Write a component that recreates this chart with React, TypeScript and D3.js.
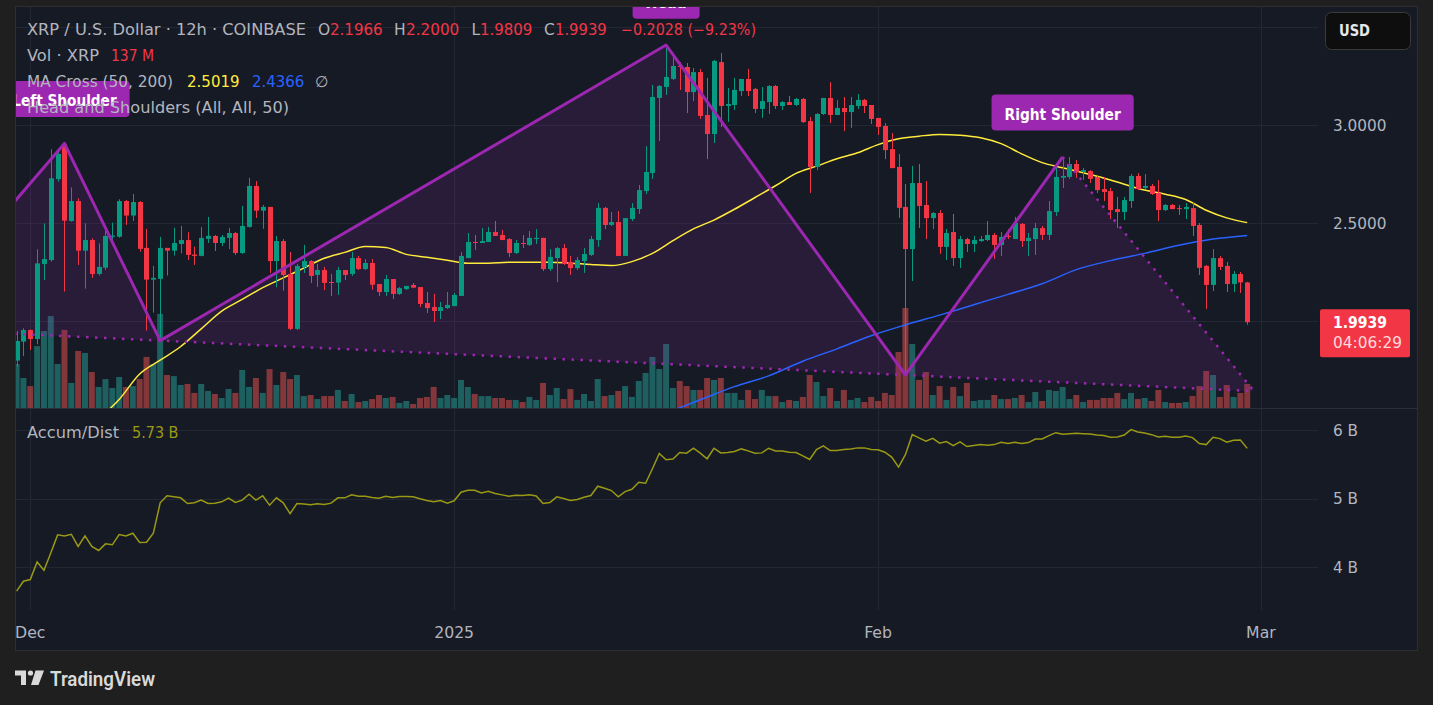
import React, { useEffect, useRef } from "react";
import * as d3 from "d3";

const W = 1433;
const H = 705;
const START = Date.UTC(2024, 10, 30, 0, 0);
const HALF_DAY = 12 * 3600 * 1000;

// ---- OHLC (12h candles, XRP/USD) ----
const opens = [
  1.798, 1.895, 1.954, 1.908, 2.291, 2.311, 2.724, 2.901, 2.510, 2.612,
  2.359, 2.413, 2.240, 2.272, 2.430, 2.430, 2.612, 2.538, 2.607, 2.373,
  2.211, 2.215, 2.373, 2.359, 2.393, 2.413, 2.339, 2.332, 2.419, 2.434,
  2.398, 2.424, 2.449, 2.347, 2.480, 2.689, 2.563, 2.582, 2.306, 2.408,
  2.240, 1.960, 2.276, 2.306, 2.235, 2.260, 2.199, 2.196, 2.260, 2.240,
  2.321, 2.265, 2.296, 2.189, 2.148, 2.214, 2.138, 2.163, 2.184, 2.173,
  2.092, 2.071, 2.051, 2.066, 2.076, 2.128, 2.321, 2.403, 2.398, 2.403,
  2.454, 2.439, 2.418, 2.347, 2.398, 2.388, 2.418, 2.424, 2.265, 2.321,
  2.372, 2.301, 2.270, 2.306, 2.337, 2.413, 2.577, 2.490, 2.505, 2.332,
  2.520, 2.571, 2.663, 2.755, 3.138, 3.194, 3.235, 3.301, 3.296, 3.168,
  3.270, 3.051, 2.954, 3.321, 3.097, 3.102, 3.173, 3.235, 3.184, 3.082,
  3.117, 3.199, 3.097, 3.117, 3.102, 3.133, 3.020, 2.786, 3.056, 3.138,
  3.051, 3.087, 3.066, 3.097, 3.128, 3.102, 3.036, 2.995, 2.877, 2.786,
  2.582, 2.367, 2.704, 2.592, 2.525, 2.551, 2.378, 2.454, 2.321, 2.418,
  2.393, 2.408, 2.413, 2.439, 2.388, 2.434, 2.418, 2.495, 2.408, 2.418,
  2.474, 2.439, 2.556, 2.731, 2.735, 2.801, 2.760, 2.765, 2.735, 2.673,
  2.663, 2.571, 2.556, 2.612, 2.740, 2.679, 2.689, 2.653, 2.566, 2.592,
  2.576, 2.571, 2.576, 2.490, 2.281, 2.184, 2.321, 2.281, 2.189, 2.240,
  2.1966,
];
const highs = [
  1.949, 1.963, 1.957, 2.366, 2.498, 2.876, 2.864, 2.906, 2.682, 2.626,
  2.498, 2.422, 2.396, 2.464, 2.502, 2.621, 2.617, 2.648, 2.612, 2.470,
  2.281, 2.429, 2.373, 2.476, 2.485, 2.453, 2.379, 2.480, 2.531, 2.439,
  2.439, 2.475, 2.454, 2.587, 2.730, 2.714, 2.592, 2.582, 2.434, 2.418,
  2.352, 2.291, 2.388, 2.311, 2.291, 2.276, 2.240, 2.275, 2.260, 2.352,
  2.332, 2.316, 2.316, 2.189, 2.235, 2.214, 2.173, 2.179, 2.194, 2.173,
  2.148, 2.138, 2.097, 2.148, 2.143, 2.352, 2.449, 2.439, 2.474, 2.480,
  2.510, 2.464, 2.423, 2.413, 2.439, 2.459, 2.469, 2.424, 2.367, 2.377,
  2.393, 2.332, 2.327, 2.372, 2.434, 2.602, 2.582, 2.556, 2.561, 2.525,
  2.602, 2.694, 2.893, 3.204, 3.204, 3.408, 3.357, 3.321, 3.316, 3.291,
  3.286, 3.240, 3.332, 3.367, 3.189, 3.240, 3.235, 3.286, 3.189, 3.194,
  3.204, 3.204, 3.122, 3.148, 3.138, 3.138, 3.041, 3.061, 3.138, 3.219,
  3.128, 3.143, 3.143, 3.158, 3.133, 3.102, 3.036, 3.010, 2.959, 2.852,
  2.699, 2.791, 2.801, 2.714, 2.556, 2.566, 2.470, 2.546, 2.434, 2.424,
  2.434, 2.434, 2.510, 2.449, 2.454, 2.469, 2.531, 2.500, 2.449, 2.500,
  2.485, 2.612, 2.791, 2.837, 2.837, 2.821, 2.781, 2.770, 2.745, 2.735,
  2.679, 2.633, 2.633, 2.750, 2.755, 2.750, 2.699, 2.719, 2.597, 2.597,
  2.592, 2.602, 2.607, 2.500, 2.286, 2.367, 2.332, 2.301, 2.255, 2.250,
  2.2000,
];
const lows = [
  1.767, 1.821, 1.852, 1.881, 2.209, 2.303, 2.711, 2.150, 2.507, 2.286,
  2.165, 2.220, 2.232, 2.260, 2.388, 2.425, 2.490, 2.510, 2.354, 1.951,
  2.043, 1.900, 2.232, 2.334, 2.345, 2.311, 2.286, 2.330, 2.398, 2.357,
  2.383, 2.367, 2.337, 2.342, 2.476, 2.526, 2.470, 2.245, 2.172, 2.155,
  1.954, 1.954, 2.245, 2.194, 2.174, 2.158, 2.128, 2.133, 2.209, 2.230,
  2.260, 2.260, 2.160, 2.128, 2.128, 2.112, 2.133, 2.158, 2.168, 2.071,
  2.041, 1.995, 2.010, 2.061, 2.076, 2.128, 2.321, 2.362, 2.398, 2.403,
  2.434, 2.413, 2.327, 2.342, 2.372, 2.383, 2.393, 2.255, 2.255, 2.199,
  2.286, 2.235, 2.260, 2.245, 2.332, 2.378, 2.469, 2.485, 2.332, 2.332,
  2.510, 2.546, 2.648, 2.725, 2.918, 3.153, 3.230, 3.179, 3.061, 3.122,
  3.031, 2.826, 2.908, 2.990, 3.016, 3.077, 3.148, 3.148, 3.061, 3.036,
  3.056, 3.082, 3.077, 3.102, 3.097, 3.010, 2.653, 2.770, 3.051, 3.010,
  3.051, 2.969, 2.985, 3.082, 3.061, 3.005, 2.949, 2.826, 2.780, 2.526,
  1.725, 2.204, 2.475, 2.418, 2.469, 2.342, 2.311, 2.281, 2.270, 2.352,
  2.352, 2.403, 2.408, 2.317, 2.332, 2.418, 2.418, 2.378, 2.332, 2.337,
  2.413, 2.413, 2.536, 2.679, 2.725, 2.730, 2.719, 2.704, 2.653, 2.612,
  2.520, 2.475, 2.515, 2.577, 2.668, 2.673, 2.643, 2.510, 2.561, 2.571,
  2.541, 2.520, 2.434, 2.235, 2.061, 2.153, 2.260, 2.148, 2.148, 2.143,
  1.9809,
];
const closes = [
  1.898, 1.954, 1.908, 2.294, 2.316, 2.728, 2.852, 2.512, 2.612, 2.359,
  2.413, 2.240, 2.276, 2.434, 2.436, 2.612, 2.538, 2.607, 2.368, 2.211,
  2.220, 2.373, 2.359, 2.398, 2.413, 2.337, 2.332, 2.424, 2.434, 2.398,
  2.429, 2.449, 2.347, 2.485, 2.689, 2.563, 2.582, 2.306, 2.408, 2.235,
  1.960, 2.281, 2.306, 2.230, 2.260, 2.194, 2.194, 2.260, 2.235, 2.321,
  2.265, 2.296, 2.185, 2.148, 2.214, 2.138, 2.168, 2.179, 2.170, 2.087,
  2.066, 2.051, 2.071, 2.082, 2.133, 2.332, 2.403, 2.398, 2.408, 2.454,
  2.434, 2.413, 2.347, 2.398, 2.393, 2.424, 2.424, 2.265, 2.327, 2.372,
  2.291, 2.270, 2.311, 2.342, 2.418, 2.577, 2.490, 2.505, 2.332, 2.525,
  2.577, 2.668, 2.760, 3.143, 3.199, 3.245, 3.301, 3.296, 3.168, 3.270,
  3.046, 2.954, 3.327, 3.097, 3.107, 3.179, 3.235, 3.173, 3.082, 3.122,
  3.199, 3.097, 3.117, 3.102, 3.133, 3.015, 2.786, 3.056, 3.138, 3.051,
  3.087, 3.066, 3.102, 3.128, 3.097, 3.031, 2.990, 2.872, 2.780, 2.577,
  2.367, 2.704, 2.587, 2.525, 2.551, 2.378, 2.449, 2.321, 2.418, 2.393,
  2.413, 2.418, 2.439, 2.388, 2.429, 2.429, 2.500, 2.408, 2.424, 2.474,
  2.439, 2.561, 2.735, 2.740, 2.801, 2.760, 2.770, 2.725, 2.668, 2.658,
  2.566, 2.556, 2.617, 2.740, 2.673, 2.689, 2.648, 2.566, 2.592, 2.571,
  2.571, 2.582, 2.485, 2.271, 2.184, 2.321, 2.276, 2.189, 2.240, 2.1967,
  1.9939,
];
// volume in millions XRP
const volumes = [
  251, 171, 125, 353, 439, 524, 251, 445, 143, 325,
  314, 205, 120, 165, 114, 177, 120, 125, 165, 291,
  251, 536, 188, 182, 131, 137, 86, 137, 97, 80,
  57, 108, 86, 217, 120, 171, 86, 222, 131, 205,
  165, 188, 68, 74, 51, 68, 68, 103, 40, 80,
  34, 40, 51, 74, 57, 63, 29, 40, 23, 57,
  63, 120, 57, 74, 57, 160, 120, 80, 68, 68,
  57, 57, 46, 46, 34, 63, 46, 143, 74, 114,
  51, 108, 46, 80, 40, 165, 68, 74, 97, 125,
  63, 154, 200, 291, 222, 365, 114, 154, 125, 103,
  103, 171, 160, 171, 86, 86, 46, 103, 51, 103,
  68, 68, 34, 46, 40, 63, 188, 148, 68, 114,
  40, 103, 46, 57, 34, 63, 40, 86, 74, 319,
  570, 365, 160, 205, 74, 125, 46, 120, 68, 143,
  40, 46, 46, 74, 51, 51, 57, 74, 34, 91,
  40, 103, 97, 120, 51, 74, 34, 46, 46, 57,
  57, 86, 51, 86, 51, 57, 40, 103, 34, 29,
  29, 34, 68, 125, 211, 188, 63, 131, 63, 86,
  137,
];
// Accumulation / Distribution, billions
const accumDist = [
  3.647, 3.792, 3.816, 4.072, 3.952, 4.203, 4.469, 4.454, 4.478, 4.300,
  4.454, 4.300, 4.241, 4.338, 4.324, 4.473, 4.454, 4.493, 4.357, 4.362,
  4.493, 4.937, 5.039, 5.024, 5.010, 4.927, 4.937, 4.976, 4.927, 4.932,
  4.952, 5.005, 4.942, 4.976, 5.063, 4.976, 5.039, 4.903, 5.010, 4.937,
  4.778, 4.927, 4.918, 4.908, 4.922, 4.913, 4.932, 5.010, 5.010, 5.053,
  5.034, 5.034, 5.014, 5.005, 5.034, 5.014, 5.029, 5.029, 5.024, 4.995,
  4.971, 4.952, 4.971, 4.932, 4.966, 5.092, 5.121, 5.121, 5.082, 5.106,
  5.072, 5.053, 5.034, 5.048, 5.043, 5.053, 5.038, 4.927, 4.942, 5.024,
  5.000, 4.971, 4.985, 5.019, 5.043, 5.179, 5.150, 5.116, 5.024, 5.101,
  5.135, 5.237, 5.222, 5.435, 5.657, 5.565, 5.575, 5.671, 5.662, 5.734,
  5.662, 5.580, 5.734, 5.666, 5.671, 5.686, 5.724, 5.695, 5.662, 5.666,
  5.734, 5.695, 5.695, 5.676, 5.671, 5.623, 5.570, 5.715, 5.768, 5.700,
  5.700, 5.715, 5.724, 5.739, 5.739, 5.715, 5.710, 5.676, 5.604, 5.459,
  5.640, 5.932, 5.884, 5.836, 5.879, 5.807, 5.831, 5.773, 5.826, 5.758,
  5.773, 5.787, 5.778, 5.787, 5.821, 5.802, 5.821, 5.802, 5.816, 5.869,
  5.869, 5.918, 5.961, 5.937, 5.947, 5.951, 5.947, 5.942, 5.927, 5.918,
  5.894, 5.898, 5.927, 6.005, 5.971, 5.956, 5.932, 5.898, 5.908, 5.894,
  5.894, 5.913, 5.889, 5.802, 5.787, 5.894, 5.874, 5.821, 5.850, 5.855,
  5.732,
];
// Moving averages (candle index, value)
const ma50Idx = [12, 15, 18, 21, 24, 27, 30, 33, 36, 39, 42, 45, 48, 51, 54, 57, 60, 63, 66, 69, 72, 75, 78, 81, 84, 87, 90, 93, 96, 99, 102, 105, 108, 111, 114, 117, 120, 123, 126, 129, 132, 135, 138, 141, 144, 147, 150, 153, 156, 159, 162, 165, 168, 171, 174, 177, 180];
const ma50Val = [1.50, 1.60, 1.73, 1.80, 1.87, 1.96, 2.05, 2.11, 2.17, 2.22, 2.27, 2.32, 2.35, 2.38, 2.375, 2.34, 2.325, 2.31, 2.295, 2.295, 2.30, 2.30, 2.30, 2.295, 2.288, 2.283, 2.303, 2.345, 2.41, 2.47, 2.515, 2.57, 2.63, 2.69, 2.753, 2.79, 2.828, 2.858, 2.90, 2.93, 2.943, 2.952, 2.948, 2.935, 2.905, 2.853, 2.808, 2.782, 2.756, 2.73, 2.698, 2.668, 2.647, 2.62, 2.565, 2.526, 2.5019];
const ma200Idx = [95, 100, 105, 110, 115, 120, 125, 130, 135, 140, 145, 150, 155, 160, 165, 170, 175, 180];
const ma200Val = [1.53, 1.598, 1.665, 1.72, 1.795, 1.858, 1.925, 1.98, 2.03, 2.083, 2.136, 2.19, 2.262, 2.308, 2.345, 2.386, 2.418, 2.4366];

// Head & shoulders pattern pivots (candle index, price)
const hsIdx = [-3, 7, 21, 95, 130, 153];
const hsPrice = [2.50, 2.906, 1.900, 3.408, 1.725, 2.837];
const hsEnd = [181, 1.642];
const neckStart = [-3, 1.939];
const hsLabelText = ["Left Shoulder", "Head", "Right Shoulder"];
const hsLabelPivot = [1, 3, 5];

const monthTicks = [Date.UTC(2024, 11, 1), Date.UTC(2025, 0, 1), Date.UTC(2025, 1, 1), Date.UTC(2025, 2, 1)];
const monthLabels = ["Dec", "2025", "Feb", "Mar"];
const priceGridTicks = [2.0, 2.5, 3.0, 3.5];
const priceLabelTicks = [2.5, 3.0];
const adTicks = [4, 5, 6];

const FONT = "'DejaVu Sans', 'Noto Sans', sans-serif";
const LOGO_FONT = "Roboto, 'Noto Sans', sans-serif";
const UP = "#089981";
const DOWN = "#f23645";
const PURPLE = "#9c27b0";

export default function App() {
  const ref = useRef<SVGSVGElement | null>(null);

  useEffect(() => {
    const svg = d3.select(ref.current);
    svg.selectAll("*").remove();
    const N = closes.length;
    const idxDate = (i: number) => new Date(START + i * HALF_DAY);

    const x = d3.scaleUtc()
      .domain([new Date(START), new Date(START + 182 * HALF_DAY)])
      .range([16.6, 1260.9]);
    const y = d3.scaleLinear().domain([2, 3]).range([321, 125]);
    const yV = d3.scaleLinear().domain([0, 570]).range([408, 308]);
    const yA = d3.scaleLinear().domain([4, 6]).range([567, 430]);
    const xi = (i: number) => x(idxDate(i));

    svg.append("rect").attr("width", W).attr("height", H).attr("fill", "#1f1f1f");
    svg.append("rect").attr("x", 15.5).attr("y", 6.5).attr("width", 1402).attr("height", 644)
      .attr("fill", "#161a25").attr("stroke", "#2e2e2e");

    const defs = svg.append("defs");
    defs.append("clipPath").attr("id", "cpP").append("rect")
      .attr("x", 16).attr("y", 7).attr("width", 1302).attr("height", 401);
    defs.append("clipPath").attr("id", "cpA").append("rect")
      .attr("x", 16).attr("y", 409).attr("width", 1302).attr("height", 206);

    // grid
    const grid = svg.append("g").attr("stroke", "#232733").attr("stroke-width", 1);
    priceGridTicks.forEach((v) => {
      const yy = Math.round(y(v)) + 0.5;
      grid.append("line").attr("x1", 16).attr("x2", 1318).attr("y1", yy).attr("y2", yy);
    });
    adTicks.forEach((v) => {
      const yy = Math.round(yA(v)) + 0.5;
      grid.append("line").attr("x1", 16).attr("x2", 1318).attr("y1", yy).attr("y2", yy);
    });
    monthTicks.forEach((t) => {
      const xx = Math.round(x(new Date(t))) + 0.5;
      grid.append("line").attr("x1", xx).attr("x2", xx).attr("y1", 7).attr("y2", 408);
      grid.append("line").attr("x1", xx).attr("x2", xx).attr("y1", 409).attr("y2", 610);
    });
    svg.append("line").attr("x1", 16).attr("x2", 1417).attr("y1", 408.5).attr("y2", 408.5)
      .attr("stroke", "#2a2e39");

    // ---- price pane ----
    const pane = svg.append("g").attr("clip-path", "url(#cpP)");
    const idx = d3.range(N);

    pane.append("g").selectAll("rect").data(idx).join("rect")
      .attr("x", (i) => xi(i) - 3)
      .attr("width", 6)
      .attr("y", (i) => yV(volumes[i]))
      .attr("height", (i) => 408 - yV(volumes[i]))
      .attr("fill", (i) => (closes[i] >= opens[i] ? "rgba(38,166,154,0.5)" : "rgba(239,83,80,0.5)"));

    // pattern fill
    const pts: [number, number][] = hsIdx.map((d, k) => [xi(d), y(hsPrice[k])]);
    const endPt: [number, number] = [xi(hsEnd[0]), y(hsEnd[1])];
    const neck0: [number, number] = [xi(neckStart[0]), y(neckStart[1])];
    pane.append("path")
      .attr("d", d3.line()([...pts, endPt, neck0]) + "Z")
      .attr("fill", "rgba(156,39,176,0.15)");

    // MA lines
    const ln = d3.line<[number, number]>().x((d) => xi(d[0])).y((d) => y(d[1])).curve(d3.curveMonotoneX);
    pane.append("path").attr("d", ln(ma200Idx.map((d, k) => [d, ma200Val[k]]))!)
      .attr("fill", "none").attr("stroke", "#2962ff").attr("stroke-width", 1.5);
    pane.append("path").attr("d", ln(ma50Idx.map((d, k) => [d, ma50Val[k]]))!)
      .attr("fill", "none").attr("stroke", "#ffeb3b").attr("stroke-width", 1.5);

    // candles
    const cg = pane.append("g");
    const cs = cg.selectAll("g").data(idx).join("g");
    cs.append("line")
      .attr("x1", (i) => Math.round(xi(i)) + 0.5).attr("x2", (i) => Math.round(xi(i)) + 0.5)
      .attr("y1", (i) => y(highs[i])).attr("y2", (i) => y(lows[i]))
      .attr("stroke", (i) => (closes[i] >= opens[i] ? UP : DOWN)).attr("stroke-width", 1);
    cs.append("rect")
      .attr("x", (i) => Math.round(xi(i)) - 2)
      .attr("width", 5)
      .attr("y", (i) => y(Math.max(opens[i], closes[i])))
      .attr("height", (i) => Math.max(1, Math.abs(y(opens[i]) - y(closes[i]))))
      .attr("fill", (i) => (closes[i] >= opens[i] ? UP : DOWN));

    // pattern lines
    pane.append("path").attr("d", d3.line()(pts)!)
      .attr("fill", "none").attr("stroke", PURPLE).attr("stroke-width", 3).attr("stroke-linejoin", "round");
    pane.append("path").attr("d", d3.line()([neck0, endPt])!)
      .attr("fill", "none").attr("stroke", PURPLE).attr("stroke-width", 2.5).attr("stroke-dasharray", "2.5 6.5");
    pane.append("path").attr("d", d3.line()([pts[5], endPt])!)
      .attr("fill", "none").attr("stroke", PURPLE).attr("stroke-width", 2.5).attr("stroke-dasharray", "2.5 6.5");

    // pattern labels
    hsLabelText.forEach((txt, k) => {
      const p = pts[hsLabelPivot[k]];
      const bottom = p[1] - 26.4;
      const g = pane.append("g");
      const r = g.append("rect").attr("fill", PURPLE).attr("rx", 4);
      const t = g.append("text").text(txt).attr("x", p[0]).attr("y", bottom - 11)
        .attr("text-anchor", "middle").attr("fill", "#ffffff")
        .attr("font-family", FONT).attr("font-size", 15.7);
      const tw = (t.node() as SVGTextElement).getComputedTextLength();
      t.attr("font-weight", 600).attr("textLength", tw).attr("lengthAdjust", "spacingAndGlyphs");
      const w = tw + 26;
      r.attr("x", p[0] - w / 2).attr("y", bottom - 36).attr("width", w).attr("height", 36);
    });

    // ---- A/D pane ----
    const apane = svg.append("g").attr("clip-path", "url(#cpA)");
    apane.append("path")
      .attr("d", d3.line<number>().x((i) => xi(i)).y((i) => yA(accumDist[i]))(idx)!)
      .attr("fill", "none").attr("stroke", "#999915").attr("stroke-width", 1.5);

    // ---- axes labels ----
    const axisText = svg.append("g").attr("font-family", FONT).attr("font-size", 15.3).attr("fill", "#b2b5be");
    priceLabelTicks.forEach((v) => {
      axisText.append("text").attr("x", 1333).attr("y", y(v) + 5.5).text(v.toFixed(4));
    });
    adTicks.forEach((v) => {
      axisText.append("text").attr("x", 1333).attr("y", yA(v) + 5.5).text(`${v} B`);
    });
    monthTicks.forEach((t, k) => {
      axisText.append("text").attr("x", x(new Date(t))).attr("y", 638).attr("text-anchor", "middle")
        .attr("font-size", 15.7).text(monthLabels[k]);
    });

    // last price box
    const lp = closes[N - 1];
    const ly = y(lp);
    svg.append("rect").attr("x", 1320).attr("y", ly - 13).attr("width", 90).attr("height", 48)
      .attr("rx", 2).attr("fill", DOWN);
    svg.append("text").attr("x", 1333).attr("y", ly + 6).text(lp.toFixed(4))
      .attr("font-family", FONT).attr("font-size", 15.3).attr("font-weight", 700).attr("fill", "#ffffff")
      .attr("textLength", 54).attr("lengthAdjust", "spacingAndGlyphs");
    svg.append("text").attr("x", 1333).attr("y", ly + 26).text("04:06:29")
      .attr("font-family", FONT).attr("font-size", 15.3).attr("fill", "#ffd9dc")
      .attr("textLength", 69).attr("lengthAdjust", "spacingAndGlyphs");

    // USD button
    svg.append("rect").attr("x", 1325.5).attr("y", 12.5).attr("width", 85).attr("height", 37)
      .attr("rx", 6).attr("fill", "#0e0e0e").attr("stroke", "#3a3a3a");
    svg.append("text").attr("x", 1339).attr("y", 36).text("USD")
      .attr("font-family", FONT).attr("font-size", 15.5).attr("font-weight", 600).attr("fill", "#e6e6e6")
      .attr("textLength", 31).attr("lengthAdjust", "spacingAndGlyphs");

    // ---- legend ----
    const leg = svg.append("g").attr("font-family", FONT).attr("font-size", 15.5);
    const seg = (xx: number, yy: number, s: string, c: string, len?: number) => {
      const t = leg.append("text").attr("x", xx).attr("y", yy).attr("fill", c).text(s);
      if (len) t.attr("textLength", len).attr("lengthAdjust", "spacingAndGlyphs");
      return t;
    };
    const GRAY = "#b2b5be";
    seg(27, 34.7, "XRP / U.S. Dollar · 12h · COINBASE", GRAY, 279);
    seg(318, 34.7, "O", GRAY);
    seg(330, 34.7, opens[N - 1].toFixed(4), DOWN, 52.7);
    seg(394, 34.7, "H", GRAY);
    seg(406, 34.7, highs[N - 1].toFixed(4), DOWN, 53.3);
    seg(471.5, 34.7, "L", GRAY);
    seg(480, 34.7, lows[N - 1].toFixed(4), DOWN, 52.4);
    seg(544, 34.7, "C", GRAY);
    seg(555, 34.7, closes[N - 1].toFixed(4), DOWN, 51.7);
    const chg = closes[N - 1] - closes[N - 2];
    seg(621, 34.7, `−${Math.abs(chg).toFixed(4)} (−${Math.abs((chg / closes[N - 2]) * 100).toFixed(2)}%)`, DOWN, 135);
    seg(27, 60.7, "Vol · XRP", GRAY, 72);
    seg(111, 60.7, `${volumes[N - 1]} M`, DOWN, 43);
    seg(27, 86.7, "MA Cross (50, 200)", GRAY, 146);
    seg(187, 86.7, ma50Val[ma50Val.length - 1].toFixed(4), "#ffeb3b", 52.6);
    seg(252, 86.7, ma200Val[ma200Val.length - 1].toFixed(4), "#2962ff", 52.3);
    seg(315, 86.7, "∅", GRAY);
    seg(27, 112.7, "Head and Shoulders (All, All, 50)", GRAY, 262);
    seg(27, 438, "Accum/Dist", GRAY, 92);
    seg(132, 438, `${accumDist[N - 1].toFixed(2)} B`, "#999915", 46.5);

    // ---- TradingView logo ----
    const logo = svg.append("g").attr("fill", "#d9d9d9");
    logo.append("path").attr("d", "M15 670.5 H26 V685 H21 V675.5 H15 Z");
    logo.append("circle").attr("cx", 30.5).attr("cy", 673).attr("r", 2.6);
    logo.append("path").attr("d", "M35.5 670.5 H44 L38.5 685 H31 Z");
    logo.append("text").attr("x", 50).attr("y", 685.5).text("TradingView")
      .attr("font-family", LOGO_FONT).attr("font-size", 19.5).attr("font-weight", 600)
      .attr("textLength", 105).attr("lengthAdjust", "spacingAndGlyphs");
  }, []);

  return (
    <div style={{ position: "absolute", left: 0, top: 0, width: W, height: H }}>
      <svg ref={ref} width={W} height={H} style={{ display: "block" }} />
    </div>
  );
}
